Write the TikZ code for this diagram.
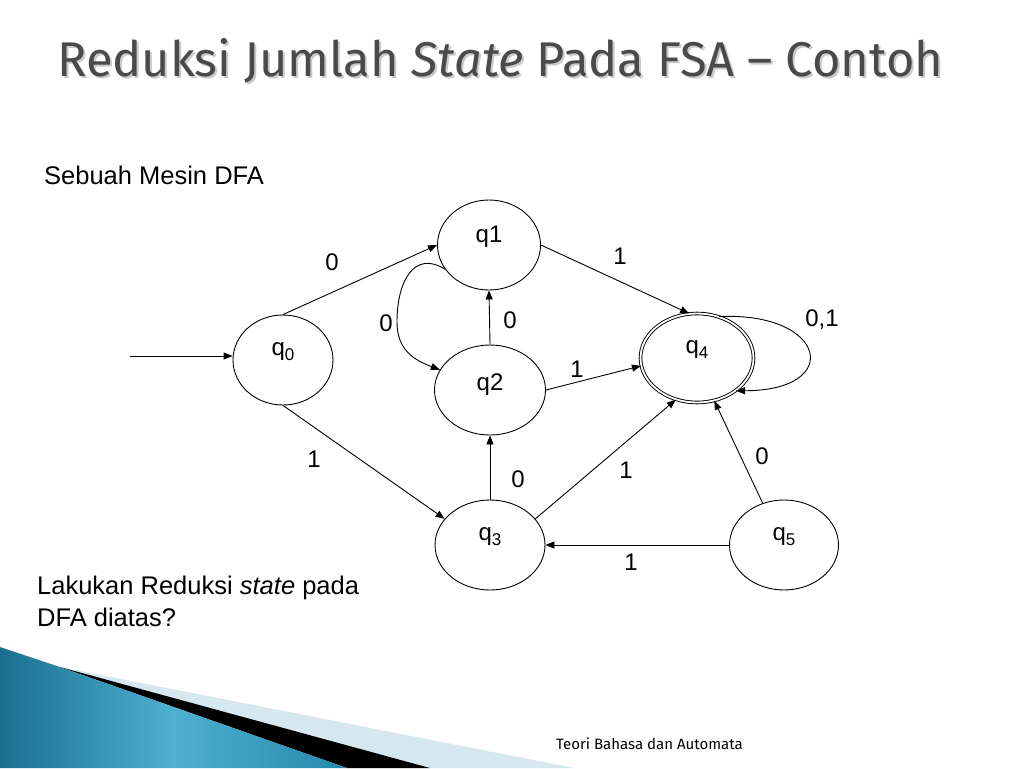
\documentclass[tikz,border=0pt]{standalone}
\usepackage{fontspec}
\setmainfont{Liberation Sans}
\newfontfamily\titlefont{Fira Sans}
\usetikzlibrary{shapes.geometric,arrows.meta}
\definecolor{titlegray}{HTML}{4A4A4A}
\definecolor{titleshadow}{HTML}{CACACA}
\definecolor{tealdark}{HTML}{1A6F8F}
\definecolor{teallight}{HTML}{4FB0D0}
\definecolor{tealmid}{HTML}{2589AD}
\definecolor{paleblue}{HTML}{D6E7F0}
\newcommand{\qsb}[1]{\raisebox{-5pt}{\fontsize{17}{17}\selectfont #1}}
\begin{document}
\begin{tikzpicture}[x=1pt,y=-1pt,
  state/.style={ellipse, draw, line width=0.9pt, inner sep=0pt, minimum height=90pt},
  slabel/.style={inner sep=0pt, font=\fontsize{24}{28}\selectfont},
  elabel/.style={inner sep=0pt, font=\fontsize{24}{28}\selectfont},
  body/.style={inner sep=0pt, anchor=base west, font=\fontsize{25.5}{30}\selectfont},
  arr/.style={-{Triangle[length=9pt,width=7pt]}, line width=0.9pt},
]
\useasboundingbox[fill=white] (0,0) rectangle (1024,768);

% bottom-left decoration
\fill[paleblue] (60,667) -- (574,768) -- (430,768) -- cycle;
\fill[black] (60,667) -- (430,768) -- (347,768) -- cycle;
\shade[left color=tealdark, right color=tealmid, middle color=teallight]
  (0,647) -- (60,667) -- (347,768) -- (0,768) -- cycle;

% title
\node[inner sep=0pt, anchor=base west, text=titleshadow, font=\titlefont\fontsize{48.8}{54}\selectfont] (tshadow) at (59,78) {Reduksi Jumlah \textit{State} Pada FSA – Contoh};
\node[inner sep=0pt, anchor=base west, text=titlegray, font=\titlefont\fontsize{48.8}{54}\selectfont] (title) at (57,76) {Reduksi Jumlah \textit{State} Pada FSA – Contoh};

% texts
\node[body] (intro) at (44,184) {Sebuah Mesin DFA};
\node[body] (ask1) at (37,594) {Lakukan Reduksi \textit{state} pada};
\node[body] (ask2) at (37,626) {DFA diatas?};
\node[inner sep=0pt, anchor=base west, font=\titlefont\fontsize{15}{17}\selectfont] (footer) at (556,749) {Teori Bahasa dan Automata};

% states
\node[state, minimum width=100pt] (q0) at (283,360) {};
\node[state, minimum width=103pt] (q1) at (489,245) {};
\node[state, minimum width=111pt] (q2) at (490,390) {};
\node[state, minimum width=110pt] (q3) at (490,545) {};
\node[state, minimum width=113pt, minimum height=89pt, double, double distance=1.8pt] (q4) at (697,358) {};
\node[state, minimum width=109pt] (q5) at (784,545) {};

\node[slabel] (q0t) at ([yshift=8pt]q0.center) {q\qsb{0}};
\node[slabel] (q1t) at ([yshift=8pt]q1.center) {q1};
\node[slabel] (q2t) at ([yshift=5pt]q2.center) {q2};
\node[slabel] (q3t) at ([yshift=8pt]q3.center) {q\qsb{3}};
\node[slabel] (q4t) at ([yshift=8pt]q4.center) {q\qsb{4}};
\node[slabel] (q5t) at ([yshift=8pt]q5.center) {q\qsb{5}};

% start arrow
\coordinate (start) at (130,356);
\draw[arr] (start) -- (start -| q0.west);

% transitions
\draw[arr] (q0.north) -- (q1.west);
\draw[arr] (q1.east) -- (q4.100);
\draw[arr] (q1.209) .. controls (415,250) and (397,280) .. (397,322)
  .. controls (397,350) and (414,360) .. (q2.158);
\draw[arr] (q2.north) -- (q1.south);
\draw[arr] (q2.east) -- (q4.188);
\draw[arr] (q0.south) -- (q3.150);
\draw[arr] (q3.north) -- (q2.south);
\draw[arr] (q3.30) -- (q4.243);
\draw[arr] (q5.west) -- (q3.east);
\draw[arr] (q5.117) -- (q4.292);
\draw[arr] (q4.62) .. controls +(108,-5) and +(108,0) .. (q4.-40);

% transition labels
\node[elabel] (l01) at (332,262) {0};
\node[elabel] (l14) at (620,256) {1};
\node[elabel] (l12) at (386,323) {0};
\node[elabel] (l21) at (510,320) {0};
\node[elabel] (l24) at (577,369) {1};
\node[elabel] (l03) at (314,459) {1};
\node[elabel] (l32) at (518,479) {0};
\node[elabel] (l34) at (626,470) {1};
\node[elabel] (l54) at (762,456) {0};
\node[elabel] (l53) at (631,562) {1};
\node[elabel] (l44) at (822,320) {0,1};
\end{tikzpicture}
\end{document}
